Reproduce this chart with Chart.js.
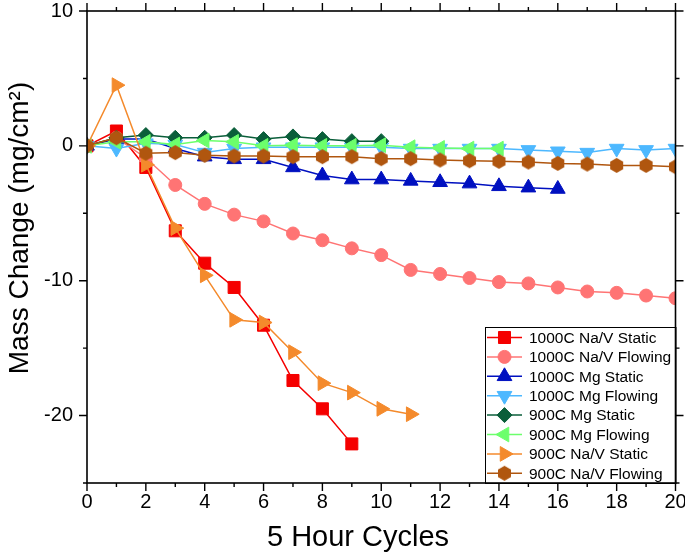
<!DOCTYPE html>
<html>
<head>
<meta charset="utf-8">
<script src="https://cdn.jsdelivr.net/npm/chart.js@4/dist/chart.umd.min.js"></script>
<style>
  html, body { margin: 0; padding: 0; background: #fff; }
  canvas { display: block; }
</style>
</head>
<body>
<canvas id="c" width="685" height="555"></canvas>
<script>
// ---- Data ----
const cycles = [0,1,2,3,4,5,6,7,8,9,10,11,12,13,14,15,16,17,18,19,20];

const naV1000Static  = [0, 1.1, -1.6, -6.3, -8.7, -10.5, -13.3, -17.4, -19.5, -22.1];
const naV1000Flowing = [0, 0.6, -0.9, -2.9, -4.3, -5.1, -5.6, -6.5, -7.0, -7.6, -8.1, -9.2, -9.5, -9.8, -10.1, -10.2, -10.5, -10.8, -10.9, -11.1, -11.3];
const mg1000Static   = [0, 0.5, 0.5, -0.2, -0.8, -1.0, -1.0, -1.6, -2.2, -2.5, -2.5, -2.6, -2.7, -2.8, -3.0, -3.1, -3.2];
const mg1000Flowing  = [0, -0.2, 0.2, 0.1, -0.5, -0.2, -0.1, -0.1, -0.1, -0.1, -0.1, -0.2, -0.2, -0.2, -0.2, -0.3, -0.4, -0.5, -0.2, -0.3, -0.2];
const mg900Static    = [0, 0.6, 0.8, 0.6, 0.6, 0.8, 0.5, 0.7, 0.5, 0.35, 0.35];
const mg900Flowing   = [0, 0.3, 0.3, 0.1, 0.4, 0.3, 0.0, 0.05, 0.0, 0.0, 0.05, -0.1, -0.15, -0.2, -0.2];
const naV900Static   = [0, 4.5, -1.4, -6.1, -9.6, -12.9, -13.1, -15.3, -17.6, -18.3, -19.5, -19.9];
const naV900Flowing  = [0, 0.6, -0.55, -0.5, -0.7, -0.75, -0.75, -0.8, -0.8, -0.8, -0.95, -0.95, -1.05, -1.1, -1.15, -1.2, -1.3, -1.35, -1.45, -1.45, -1.55];

const seriesLabels = [
  '1000C Na/V Static', '1000C Na/V Flowing', '1000C Mg Static', '1000C Mg Flowing',
  '900C Mg Static', '900C Mg Flowing', '900C Na/V Static', '900C Na/V Flowing'
];
const seriesValues = [naV1000Static, naV1000Flowing, mg1000Static, mg1000Flowing,
                      mg900Static, mg900Flowing, naV900Static, naV900Flowing];

const xMajorTicks = [0,2,4,6,8,10,12,14,16,18,20];
const xMinorTicks = [1,3,5,7,9,11,13,15,17,19];
const yMajorTicks = [10,0,-10,-20];
const yMinorTicks = [5,-5,-15,-25];

const xTitle = '5 Hour Cycles';
const yTitle = 'Mass Change (mg/cm²)';

// ---- Styles ----
const colors = ['#f50000', '#ff7474', '#0010c0', '#4db8ff', '#0a5e3a', '#6cff6c', '#f48a2c', '#b0560f'];

function hexagonCanvas(color, r) {
  const s = Math.ceil(r * 2 + 2);
  const cv = document.createElement('canvas');
  cv.width = s; cv.height = s;
  const c = cv.getContext('2d');
  c.fillStyle = color;
  c.beginPath();
  for (let k = 0; k < 6; k++) {
    const a = Math.PI / 6 + k * Math.PI / 3;
    const px = s / 2 + r * Math.cos(a), py = s / 2 + r * Math.sin(a);
    if (k === 0) c.moveTo(px, py); else c.lineTo(px, py);
  }
  c.closePath();
  c.fill();
  return cv;
}

const markers = [
  { style: 'rect', radius: 8.5, rotation: 0 },
  { style: 'circle', radius: 6.5, rotation: 0 },
  { style: 'triangle', radius: 8.5, rotation: 0 },
  { style: 'triangle', radius: 8.5, rotation: 180 },
  { style: 'rectRot', radius: 7.5, rotation: 0 },
  { style: 'triangle', radius: 8.5, rotation: -90 },
  { style: 'triangle', radius: 8.5, rotation: 90 },
  { style: hexagonCanvas(colors[7], 7.5), radius: 7.5, rotation: 0 }
];

const datasets = seriesValues.map((vals, i) => ({
  label: seriesLabels[i],
  data: vals.map((v, j) => ({ x: cycles[j], y: v })),
  borderColor: colors[i],
  backgroundColor: colors[i],
  borderWidth: 1.5,
  pointStyle: markers[i].style,
  pointRadius: markers[i].radius,
  pointRotation: markers[i].rotation,
  pointBorderWidth: 1,
  pointBorderColor: colors[i],
  pointBackgroundColor: colors[i],
  tension: 0,
  order: seriesValues.length - i
}));

const FONT = "'Liberation Sans', Arial, sans-serif";

const framePlugin = {
  id: 'frameAndLegend',
  afterDraw(chart) {
    const ctx = chart.ctx;
    const a = chart.chartArea;
    const xs = chart.scales.x, ys = chart.scales.y;
    ctx.save();
    // Legend box
    const lw = 190.5, lh = 156;
    const lx = a.right - lw, ly = a.bottom - lh;
    ctx.fillStyle = '#fff';
    ctx.fillRect(lx, ly, lw, lh);
    ctx.strokeStyle = '#000';
    ctx.lineWidth = 1;
    ctx.strokeRect(lx + 0.5, ly + 0.5, lw, lh);
    for (let i = 0; i < seriesLabels.length; i++) {
      const y = ly + 10.5 + i * 19.4;
      ctx.strokeStyle = colors[i];
      ctx.lineWidth = 1.5;
      ctx.beginPath();
      ctx.moveTo(lx + 2, y);
      ctx.lineTo(lx + 37, y);
      ctx.stroke();
      ctx.fillStyle = colors[i];
      ctx.strokeStyle = colors[i];
      ctx.lineWidth = 1;
      Chart.helpers.drawPoint(ctx, { pointStyle: markers[i].style, radius: markers[i].radius, rotation: markers[i].rotation, borderWidth: 1 }, lx + 19.5, y);
      ctx.fillStyle = '#000';
      ctx.font = '15.5px ' + FONT;
      ctx.textAlign = 'left';
      ctx.textBaseline = 'middle';
      ctx.fillText(seriesLabels[i], lx + 44, y + 1);
    }
    // Frame
    ctx.strokeStyle = '#000';
    ctx.lineWidth = 1.6;
    ctx.strokeRect(a.left, a.top, a.right - a.left, a.bottom - a.top);
    // Ticks (outward)
    ctx.lineWidth = 1.4;
    ctx.beginPath();
    const tickX = (vals, len) => vals.forEach(v => {
      const p = xs.getPixelForValue(v);
      ctx.moveTo(p, a.bottom); ctx.lineTo(p, a.bottom + len);
      ctx.moveTo(p, a.top); ctx.lineTo(p, a.top - len);
    });
    const tickY = (vals, len) => vals.forEach(v => {
      const p = ys.getPixelForValue(v);
      ctx.moveTo(a.left, p); ctx.lineTo(a.left - len, p);
      ctx.moveTo(a.right, p); ctx.lineTo(a.right + len, p);
    });
    tickX(xMajorTicks, 8); tickX(xMinorTicks, 4);
    tickY(yMajorTicks, 8); tickY(yMinorTicks, 4);
    ctx.stroke();
    // Axis titles
    ctx.fillStyle = '#000';
    ctx.textAlign = 'center';
    ctx.textBaseline = 'middle';
    ctx.font = '29px ' + FONT;
    ctx.fillText(xTitle, 358, 538);
    ctx.font = '28px ' + FONT;
    ctx.save();
    ctx.translate(20, 228);
    ctx.rotate(-Math.PI / 2);
    ctx.fillText(yTitle, 0, 0);
    ctx.restore();
    ctx.restore();
  }
};

new Chart(document.getElementById('c'), {
  type: 'line',
  data: { datasets },
  options: {
    responsive: false,
    animation: false,
    layout: { padding: { top: 11, right: 7, left: 0, bottom: 0 } },
    plugins: { legend: { display: false }, tooltip: { enabled: false } },
    scales: {
      x: {
        type: 'linear', min: 0, max: 20,
        afterBuildTicks: s => { s.ticks = xMajorTicks.map(v => ({ value: v })); },
        afterFit: s => { s.height = 72; s.paddingLeft = 0; s.paddingRight = 0; },
        grid: { display: false, drawTicks: false },
        border: { display: false },
        ticks: { color: '#000', font: { family: FONT, size: 20 }, padding: 7, maxRotation: 0, autoSkip: false }
      },
      y: {
        type: 'linear', min: -25, max: 10,
        afterBuildTicks: s => { s.ticks = yMajorTicks.map(v => ({ value: v })); },
        afterFit: s => { s.width = 87; s.paddingTop = 0; s.paddingBottom = 0; },
        grid: { display: false, drawTicks: false },
        border: { display: false },
        ticks: { color: '#000', font: { family: FONT, size: 20 }, padding: 14, autoSkip: false }
      }
    }
  },
  plugins: [framePlugin]
});
</script>
</body>
</html>
